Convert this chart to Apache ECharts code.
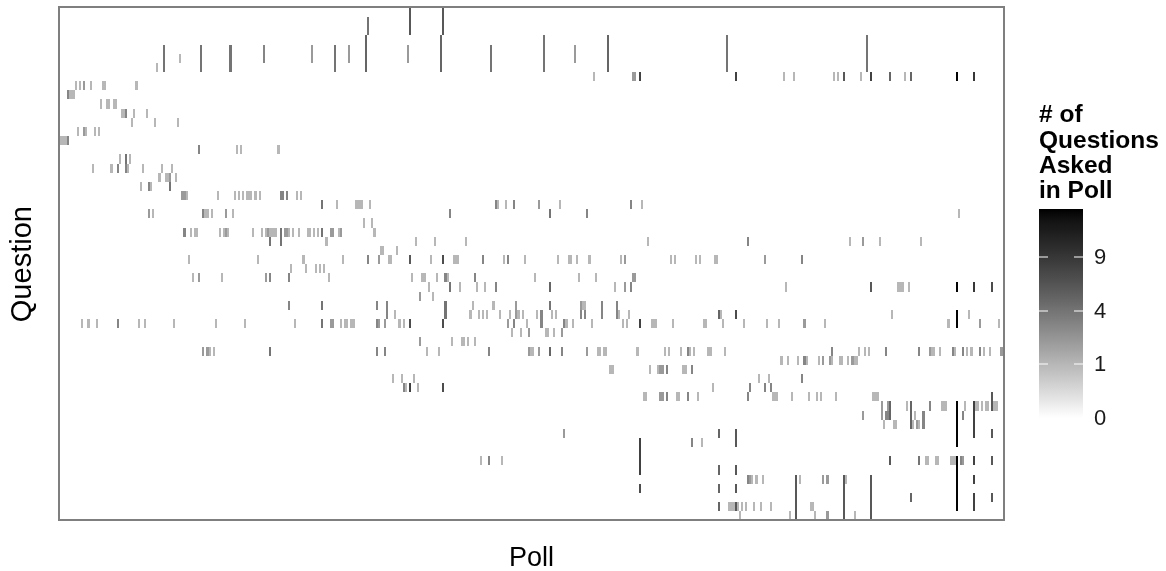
<!DOCTYPE html>
<html><head><meta charset="utf-8">
<style>html,body{margin:0;padding:0;background:#fff}#c{width:1166px;height:571px}</style>
<script src="https://cdn.jsdelivr.net/npm/echarts@6/dist/echarts.min.js"></script>
</head><body><div id="c"></div>
<script>
// Each question: [poll index, number of questions asked in that poll]
const q00=[[168,6],[184,6]];
const q01=[[148,4],[168,6],[184,6]];
const q02=[[148,4],[168,6],[184,6]];
const q03=[[147,5],[183,5],[232,4],[263,5],[320,4],[387,4]];
const q04=[[50,4],[68,4],[82,4],[98,3],[121,2],[132,4],[139,2],[147,5],[167,2],[183,5],[207,4],[232,4],[247,2],[263,5],[320,4],[387,4]];
const q05=[[50,4],[58,1],[68,4],[82,4],[98,3],[121,2],[132,4],[139,2],[147,5],[167,2],[183,5],[207,4],[232,4],[247,2],[263,5],[320,4],[387,4]];
const q06=[[47,1],[50,4],[68,4],[82,4],[132,4],[147,5],[183,5],[207,4],[232,4],[263,5],[320,4],[387,4]];
const q07=[[256,1],[275,2],[276,2],[278,8],[324,8],[347,1],[352,1],[371,1],[373,1],[376,6],[384,1],[389,8],[398,5],[405,1],[408,5],[430,15],[438,9]];
const q08=[[8,1],[10,1],[12,2],[15,1],[21,1],[22,1],[37,1]];
const q09=[[4,3],[5,1],[6,1],[7,1]];
const q10=[[20,1],[23,1],[24,1],[26,1],[27,1]];
const q11=[[30,1],[31,1],[32,3],[36,1],[42,1]];
const q12=[[35,1],[46,1],[57,1]];
const q13=[[9,1],[12,2],[13,1],[17,1],[19,1]];
const q14=[[0,1],[1,1],[2,1],[3,1],[4,3]];
const q15=[[67,3],[85,1],[87,1],[105,1]];
const q16=[[29,1],[32,4],[34,1]];
const q17=[[16,1],[25,1],[28,3],[32,3],[33,1],[40,1],[49,1],[54,1]];
const q18=[[48,1],[51,1],[52,1],[53,2],[56,1]];
const q19=[[39,1],[43,3],[44,1],[53,4]];
const q20=[[59,2],[60,2],[61,1],[76,1],[84,1],[86,1],[88,1],[90,1],[91,1],[92,1],[94,1],[96,1],[106,3],[107,3],[109,3],[114,1],[116,1]];
const q21=[[126,4],[133,1],[142,1],[143,1],[144,1],[145,1],[149,1],[209,3],[210,1],[214,1],[218,3],[230,2],[240,1],[274,3],[279,1]];
const q22=[[43,2],[45,1],[69,3],[70,1],[71,1],[73,1],[80,2],[83,1],[187,3],[235,4],[253,3],[431,1]];
const q23=[[146,1],[150,1]];
const q24=[[60,3],[63,1],[65,1],[66,1],[77,1],[79,1],[80,2],[81,1],[93,1],[97,1],[99,1],[100,2],[101,1],[102,1],[103,1],[104,1],[106,4],[108,2],[109,2],[110,1],[112,1],[115,1],[119,1],[120,1],[122,1],[124,1],[126,4],[130,2],[131,2],[134,1],[135,2],[151,1]];
const q25=[[101,4],[106,4],[128,1],[171,1],[180,1],[195,1],[282,1],[330,3],[379,1],[385,2],[393,1],[413,1]];
const q26=[[154,1],[155,1],[162,1]];
const q27=[[62,1],[95,1],[117,1],[136,1],[148,3],[153,2],[158,1],[159,1],[168,6],[178,1],[184,7],[189,1],[190,1],[191,1],[203,3],[213,1],[215,3],[223,1],[239,1],[244,1],[245,1],[248,1],[254,1],[269,1],[271,2],[293,1],[295,1],[305,1],[307,1],[314,1],[315,1],[338,2],[356,3]];
const q28=[[111,1],[118,1],[123,1],[125,1],[127,1]];
const q29=[[64,1],[67,2],[78,1],[99,2],[101,3],[110,3],[129,1],[169,1],[174,1],[175,1],[181,1],[185,3],[186,1],[199,3],[228,1],[249,1],[257,1],[275,2],[276,2]];
const q30=[[177,1],[187,4],[192,1],[200,1],[204,1],[209,3],[235,5],[266,1],[271,2],[274,3],[348,1],[389,6],[402,1],[403,1],[404,1],[407,1],[430,15],[438,9],[447,7]];
const q31=[[173,2],[179,1]];
const q32=[[110,3],[126,4],[152,3],[157,3],[185,4],[198,1],[208,1],[219,2],[235,4],[250,2],[251,1],[252,1],[260,3],[267,3]];
const q33=[[157,3],[161,1],[185,4],[197,1],[201,1],[203,1],[205,1],[211,1],[216,1],[219,2],[220,1],[222,1],[229,1],[231,3],[236,1],[238,1],[250,3],[252,3],[260,3],[267,3],[268,1],[273,1],[316,5],[317,1],[324,7],[399,1],[430,15],[436,1]];
const q34=[[11,1],[14,1],[18,1],[28,3],[38,1],[41,1],[55,1],[75,1],[89,1],[113,1],[126,4],[130,2],[131,2],[135,1],[137,1],[138,1],[140,1],[141,1],[152,3],[153,2],[156,2],[163,1],[165,1],[168,7],[184,7],[215,2],[218,3],[224,1],[231,3],[242,3],[243,1],[246,1],[255,1],[270,1],[272,1],[278,8],[284,1],[285,1],[286,1],[294,1],[309,1],[310,1],[318,1],[328,1],[339,1],[345,1],[357,2],[367,1],[426,1],[430,15],[441,2],[450,1]];
const q35=[[217,1],[221,1],[225,2],[233,1],[234,1],[237,1],[241,2]];
const q36=[[173,2],[188,1],[193,1],[194,1],[196,1],[199,1]];
const q37=[[69,2],[71,2],[72,1],[74,1],[101,4],[152,3],[156,3],[176,1],[182,1],[206,3],[225,2],[226,1],[227,1],[230,2],[235,5],[241,3],[253,2],[258,1],[259,1],[261,1],[262,1],[277,1],[290,1],[292,1],[298,1],[301,3],[302,1],[304,1],[311,1],[312,1],[319,1],[370,3],[383,1],[386,1],[388,1],[396,3],[412,3],[417,2],[418,1],[419,1],[422,1],[428,3],[429,1],[433,3],[435,1],[437,1],[441,3],[443,1],[446,1],[451,2],[452,2]];
const q38=[[346,1],[349,1],[354,1],[357,3],[358,1],[364,1],[366,2],[369,2],[370,1],[374,1],[375,1],[378,1],[380,2],[381,1],[382,1]];
const q39=[[264,1],[265,1],[283,1],[287,1],[288,2],[289,2],[291,3],[299,1],[300,1],[303,3]];
const q40=[[160,1],[164,1],[170,1],[335,1],[340,1],[356,3]];
const q41=[[165,3],[166,1],[168,8],[172,1],[184,7],[313,1],[331,3],[338,3],[341,3]];
const q42=[[280,1],[281,1],[288,2],[289,2],[291,3],[296,1],[297,1],[301,3],[306,1],[330,3],[342,1],[343,1],[344,1],[351,1],[359,1],[363,1],[365,1],[372,1],[390,1],[391,1],[392,1],[447,6]];
const q43=[[394,2],[397,2],[398,5],[406,1],[408,5],[417,3],[423,1],[424,1],[425,1],[430,15],[434,1],[438,8],[439,1],[440,1],[442,1],[444,1],[445,1],[447,6],[448,1],[449,1]];
const q44=[[385,2],[394,2],[396,3],[397,3],[398,5],[408,5],[410,1],[414,3],[430,15],[433,3],[438,8]];
const q45=[[395,1],[400,1],[401,1],[408,5],[409,1],[411,2],[412,1],[414,3],[430,15],[438,8]];
const q46=[[242,2],[316,5],[324,6],[430,15],[438,8],[447,6]];
const q47=[[278,8],[303,3],[308,1],[324,6],[430,15]];
const q48=[[278,8]];
const q49=[[202,1],[206,3],[212,1],[278,8],[398,6],[412,4],[415,1],[416,1],[420,1],[421,1],[427,1],[428,1],[429,1],[430,15],[432,3],[433,2],[438,8],[447,6]];
const q50=[[278,8],[316,5],[324,6],[430,15]];
const q51=[[330,3],[331,2],[332,1],[334,1],[337,1],[353,6],[355,1],[366,2],[368,2],[376,6],[377,1],[389,6],[430,15],[438,8]];
const q52=[[278,7],[316,5],[324,6],[353,6],[376,6],[389,6],[430,15]];
const q53=[[353,6],[376,6],[389,6],[408,5],[430,15],[438,8],[447,6]];
const q54=[[316,5],[321,1],[322,1],[323,1],[324,6],[325,1],[327,1],[329,1],[333,1],[336,1],[341,1],[353,6],[360,1],[361,1],[376,6],[389,6],[430,15],[438,8]];
const q55=[[326,1],[350,1],[353,6],[362,1],[368,2],[376,6],[381,1],[389,6]];
const questions=[q00,q01,q02,q03,q04,q05,q06,q07,q08,q09,q10,q11,q12,q13,q14,q15,q16,q17,q18,q19,q20,q21,q22,q23,q24,q25,q26,q27,q28,q29,q30,q31,q32,q33,q34,q35,q36,q37,q38,q39,q40,q41,q42,q43,q44,q45,q46,q47,q48,q49,q50,q51,q52,q53,q54,q55];
const legendTicks=[0,1,4,9];
const maxCount=15.25;
const pollCount=453;

function greyFor(v){
  const L=100*(1-Math.sqrt(v/maxCount));
  const y=L>8?Math.pow((L+16)/116,3):L/903.3;
  const s=y<=0.0031308?12.92*y:1.055*Math.pow(y,1/2.4)-0.055;
  const g=Math.round(255*s);
  return 'rgb('+g+','+g+','+g+')';
}
const cells=[];
questions.forEach((row,q)=>row.forEach(c=>cells.push([c[0],q,c[1]])));
const pollAxis=Array.from({length:pollCount},(_,i)=>i);
const questionAxis=questions.map((_,i)=>i);

const barTop=209,barBottom=418,barLeft=1039,barRight=1083,unit=(barBottom-barTop)/Math.sqrt(maxCount);
const stops=[];
for(let i=0;i<=40;i++){const t=i/40;stops.push({offset:t,color:greyFor(maxCount*(1-t)*(1-t))});}
const legendEls=[
 {type:'rect',shape:{x:barLeft,y:barTop,width:barRight-barLeft,height:barBottom-barTop},
  style:{fill:new echarts.graphic.LinearGradient(0,0,0,1,stops)}},
 {type:'text',x:1039,y:103,style:{text:'# of\nQuestions\nAsked\nin Poll',font:'bold 24.5px "Liberation Sans"',lineHeight:25.3,fill:'#000',verticalAlign:'top'}}
];
legendTicks.forEach(v=>{
  const y=Math.round(barBottom-unit*Math.sqrt(v));
  if(v>0){
    legendEls.push({type:'rect',shape:{x:barLeft,y:y-0.5,width:9,height:1},style:{fill:'#fff'}});
    legendEls.push({type:'rect',shape:{x:barRight-9,y:y-0.5,width:9,height:1},style:{fill:'#fff'}});
  }
  legendEls.push({type:'text',x:1094,y:y+1,style:{text:String(v),font:'22px "Liberation Sans"',fill:'#1a1a1a',verticalAlign:'middle'}});
});
legendEls.push({type:'rect',z:100,shape:{x:59,y:7,width:945,height:513},style:{fill:'none',stroke:'#7f7f7f',lineWidth:2}});

const chart=echarts.init(document.getElementById('c'),null,{renderer:'canvas',width:1166,height:571});
chart.setOption({
  animation:false,
  backgroundColor:'#fff',
  grid:{left:58.75,top:7.95,width:945.6,height:512.4,containLabel:false,show:false,outerBoundsMode:'none'},
  xAxis:{type:'category',data:pollAxis,name:'Poll',nameLocation:'center',nameGap:25,
    nameTextStyle:{fontFamily:'Liberation Sans',fontSize:27,color:'#000'},
    axisLine:{show:false},axisTick:{show:false},axisLabel:{show:false},splitLine:{show:false}},
  yAxis:{type:'category',inverse:true,data:questionAxis,name:'Question',nameLocation:'center',nameGap:21,nameRotate:90,
    nameTextStyle:{fontFamily:'Liberation Sans',fontSize:29,color:'#000'},
    axisLine:{show:false},axisTick:{show:false},axisLabel:{show:false},splitLine:{show:false}},
  series:[{type:'custom',data:cells,clip:false,silent:true,
    encode:{x:0,y:1},
    renderItem:function(params,api){
      const c=api.coord([api.value(0),api.value(1)]);
      const s=api.size([1,1]);
      const x0=Math.floor(c[0]-s[0]/2),x1=Math.floor(c[0]+s[0]/2);
      const y0=Math.round(c[1]-s[1]/2),y1=Math.round(c[1]+s[1]/2);
      return {type:'rect',shape:{x:x0,y:y0,width:x1-x0,height:y1-y0},style:{fill:greyFor(api.value(2))}};
    }}],
  graphic:legendEls
});
</script></body></html>
